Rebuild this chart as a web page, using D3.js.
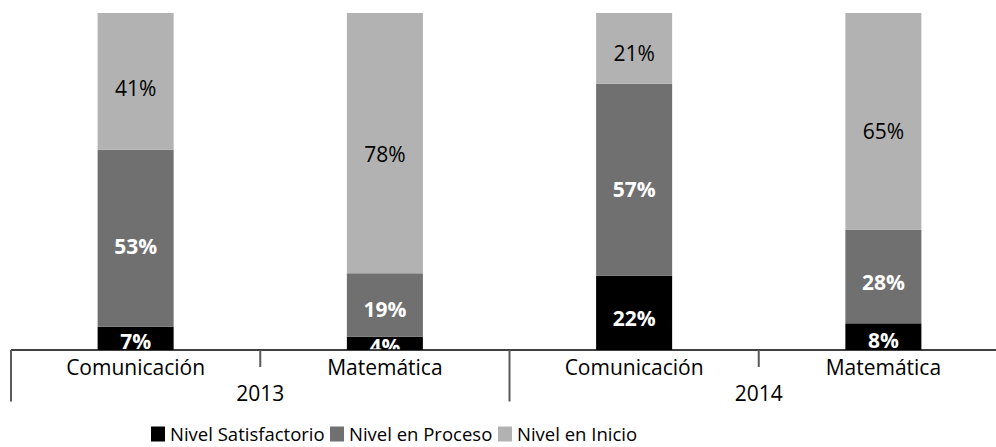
<!DOCTYPE html>
<html>
<head>
<meta charset="utf-8">
<script src="https://cdn.jsdelivr.net/npm/d3@7"></script>
<style>
  html, body { margin: 0; padding: 0; background: #fff; }
  svg { display: block; font-family: "Open Sans", "Noto Sans", sans-serif; }
</style>
</head>
<body>
<svg id="chart" width="996" height="447"></svg>
<script>
// ---- data ----
const categories = ["Comunicación", "Matemática", "Comunicación", "Matemática"];
const years = ["2013", "2014"];
const seriesNames = ["Nivel Satisfactorio", "Nivel en Proceso", "Nivel en Inicio"];
const satisfactorio = [7, 4, 22, 8];
const proceso = [53, 19, 57, 28];
const inicio = [41, 78, 21, 65];
const colors = ["#000000", "#707070", "#b2b2b2"];

const svg = d3.select("#chart");
const W = 996;

const rows = categories.map((c, i) => ({
  idx: i, cat: c,
  "Nivel Satisfactorio": satisfactorio[i],
  "Nivel en Proceso": proceso[i],
  "Nivel en Inicio": inicio[i]
}));

const stack = d3.stack().keys(seriesNames).offset(d3.stackOffsetExpand);
const stacked = stack(rows);

const x = d3.scaleBand().domain(d3.range(categories.length)).range([11, 1008]).padding(0);
const y = d3.scaleLinear().domain([0, 1]).range([350, 13]);
const barW = x.bandwidth() * 0.305;

svg.append("defs").append("clipPath").attr("id", "plotclip")
  .append("rect").attr("x", 0).attr("y", 0).attr("width", W).attr("height", y(0));

// bars
const g = svg.append("g").attr("clip-path", "url(#plotclip)");
stacked.forEach((s, si) => {
  g.selectAll(null).data(s).enter().append("rect")
    .attr("x", d => x(d.data.idx) + x.bandwidth() / 2 - barW / 2)
    .attr("y", d => y(d[1]))
    .attr("width", barW)
    .attr("height", d => y(d[0]) - y(d[1]))
    .attr("fill", colors[si]);
});

// labels
stacked.forEach((s, si) => {
  g.selectAll(null).data(s).enter().append("text")
    .attr("x", d => x(d.data.idx) + x.bandwidth() / 2)
    .attr("y", d => {
      const h = y(d[0]) - y(d[1]);
      return (y(d[0]) + y(d[1])) / 2 + 2 + 0.035 * h;
    })
    .attr("text-anchor", "middle")
    .attr("dominant-baseline", "central")
    .attr("font-size", 21)
    .attr("font-weight", si === 2 ? 400 : 700)
    .attr("fill", si === 2 ? "#000" : "#fff")
    .text(d => d.data[seriesNames[si]] + "%");
});

// axis
const ax = svg.append("g");
ax.append("line")
  .attr("x1", x.range()[0]).attr("x2", W)
  .attr("y1", y(0)).attr("y2", y(0))
  .attr("stroke", "#000").attr("stroke-width", 1.3);

const bounds = d3.range(categories.length + 1).map(i => x.range()[0] + i * x.step());
bounds.forEach((b, i) => {
  const long = i % 2 === 0;
  ax.append("line")
    .attr("x1", b).attr("x2", b)
    .attr("y1", y(0)).attr("y2", long ? 401.5 : 367)
    .attr("stroke", "#595959").attr("stroke-width", 2);
});

ax.selectAll(null).data(rows).enter().append("text")
  .attr("x", d => x(d.idx) + x.bandwidth() / 2)
  .attr("y", 375)
  .attr("text-anchor", "middle")
  .attr("font-size", 21)
  .attr("fill", "#000")
  .text(d => d.cat);

ax.selectAll(null).data(years).enter().append("text")
  .attr("x", (d, i) => (bounds[i * 2] + bounds[i * 2 + 2]) / 2)
  .attr("y", 401)
  .attr("text-anchor", "middle")
  .attr("font-size", 21)
  .attr("fill", "#000")
  .text(d => d);

// legend
const legendX = [151, 330, 498];
const leg = svg.append("g").attr("transform", "translate(0,441)");
seriesNames.forEach((n, i) => {
  const it = leg.append("g").attr("transform", `translate(${legendX[i]},0)`);
  it.append("rect").attr("x", 0).attr("y", -14.5).attr("width", 14).attr("height", 15).attr("fill", colors[i]);
  it.append("text").attr("x", 19).attr("y", 0).attr("font-size", 18.5).attr("fill", "#000").text(n);
});
</script>
</body>
</html>
